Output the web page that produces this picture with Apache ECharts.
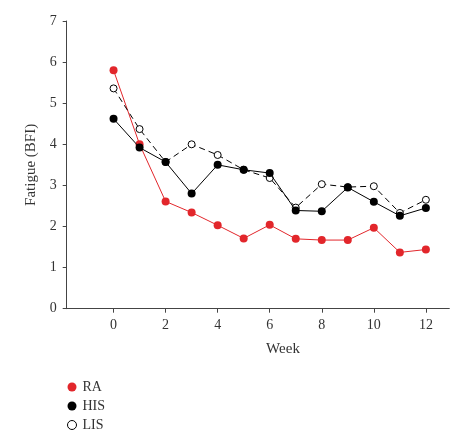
<!DOCTYPE html>
<html>
<head>
<meta charset="utf-8">
<script src="https://cdn.jsdelivr.net/npm/echarts@6/dist/echarts.min.js"></script>
<style>html,body{margin:0;padding:0;background:#fff}#c{width:476px;height:440px}</style>
</head>
<body>
<div id="c"></div>
<script>
const weeks = [0,1,2,3,4,5,6,7,8,9,10,11,12];
const raValues  = [5.80,4.00,2.61,2.34,2.03,1.71,2.04,1.70,1.67,1.67,1.97,1.37,1.44];
const hisValues = [4.62,3.92,3.57,2.80,3.50,3.38,3.30,2.39,2.37,2.95,2.60,2.26,2.45];
const lisValues = [5.36,4.37,3.57,4.00,3.74,3.38,3.18,2.46,3.03,2.96,2.98,2.33,2.65];
const xTicks = [0,2,4,6,8,10,12];
const seriesNames = ['RA','HIS','LIS'];

const pair = v => weeks.map((w,i)=>[w,v[i]]);
const font = 'Liberation Serif';
const chart = echarts.init(document.getElementById('c'));
chart.setOption({
  animation:false,
  textStyle:{fontFamily:font},
  grid:{left:66.7,right:26.7,top:21,bottom:131.3},
  legend:{
    orient:'vertical', left:62, top:375, itemWidth:9, itemHeight:9, itemGap:5,
    textStyle:{fontFamily:font,fontSize:14,color:'#333',padding:[0,0,0,1],lineHeight:14},
    data:[{name:'RA',icon:'circle'},{name:'HIS',icon:'circle'},
          {name:'LIS',icon:'circle',itemStyle:{color:'#fff',borderColor:'#000',borderWidth:1}}]
  },
  xAxis:{
    type:'value', min:-1.8, max:12.9,
    name:'Week', nameLocation:'middle', nameGap:33,
    nameTextStyle:{fontFamily:font,fontSize:15,color:'#333',padding:[0,0,0,50]},
    axisLine:{onZero:false,lineStyle:{color:'#444',width:1}},
    axisTick:{show:true,length:4,customValues:xTicks,lineStyle:{color:'#444'}},
    axisLabel:{customValues:xTicks,margin:10,fontFamily:font,fontSize:14,color:'#333'},
    splitLine:{show:false}
  },
  yAxis:{
    type:'value', min:0, max:7, interval:1,
    name:'Fatigue (BFI)', nameLocation:'middle', nameGap:28,
    nameTextStyle:{fontFamily:font,fontSize:15,color:'#333'},
    axisLine:{show:true,onZero:false,lineStyle:{color:'#444',width:1}},
    axisTick:{show:true,length:4,lineStyle:{color:'#444'}},
    axisLabel:{margin:10,fontFamily:font,fontSize:14,color:'#333'},
    splitLine:{show:false}
  },
  series:[
    {name:seriesNames[0],type:'line',data:pair(raValues),symbol:'circle',symbolSize:8,
     itemStyle:{color:'#e2262b'},lineStyle:{color:'#e2262b',width:1},z:2},
    {name:seriesNames[1],type:'line',data:pair(hisValues),symbol:'circle',symbolSize:8,
     itemStyle:{color:'#000'},lineStyle:{color:'#000',width:1},z:4},
    {name:seriesNames[2],type:'line',data:pair(lisValues),symbol:'circle',symbolSize:7,
     itemStyle:{color:'#fff',borderColor:'#000',borderWidth:1},lineStyle:{color:'#000',width:1,type:[6,4]},z:3}
  ]
});
</script>
</body>
</html>
